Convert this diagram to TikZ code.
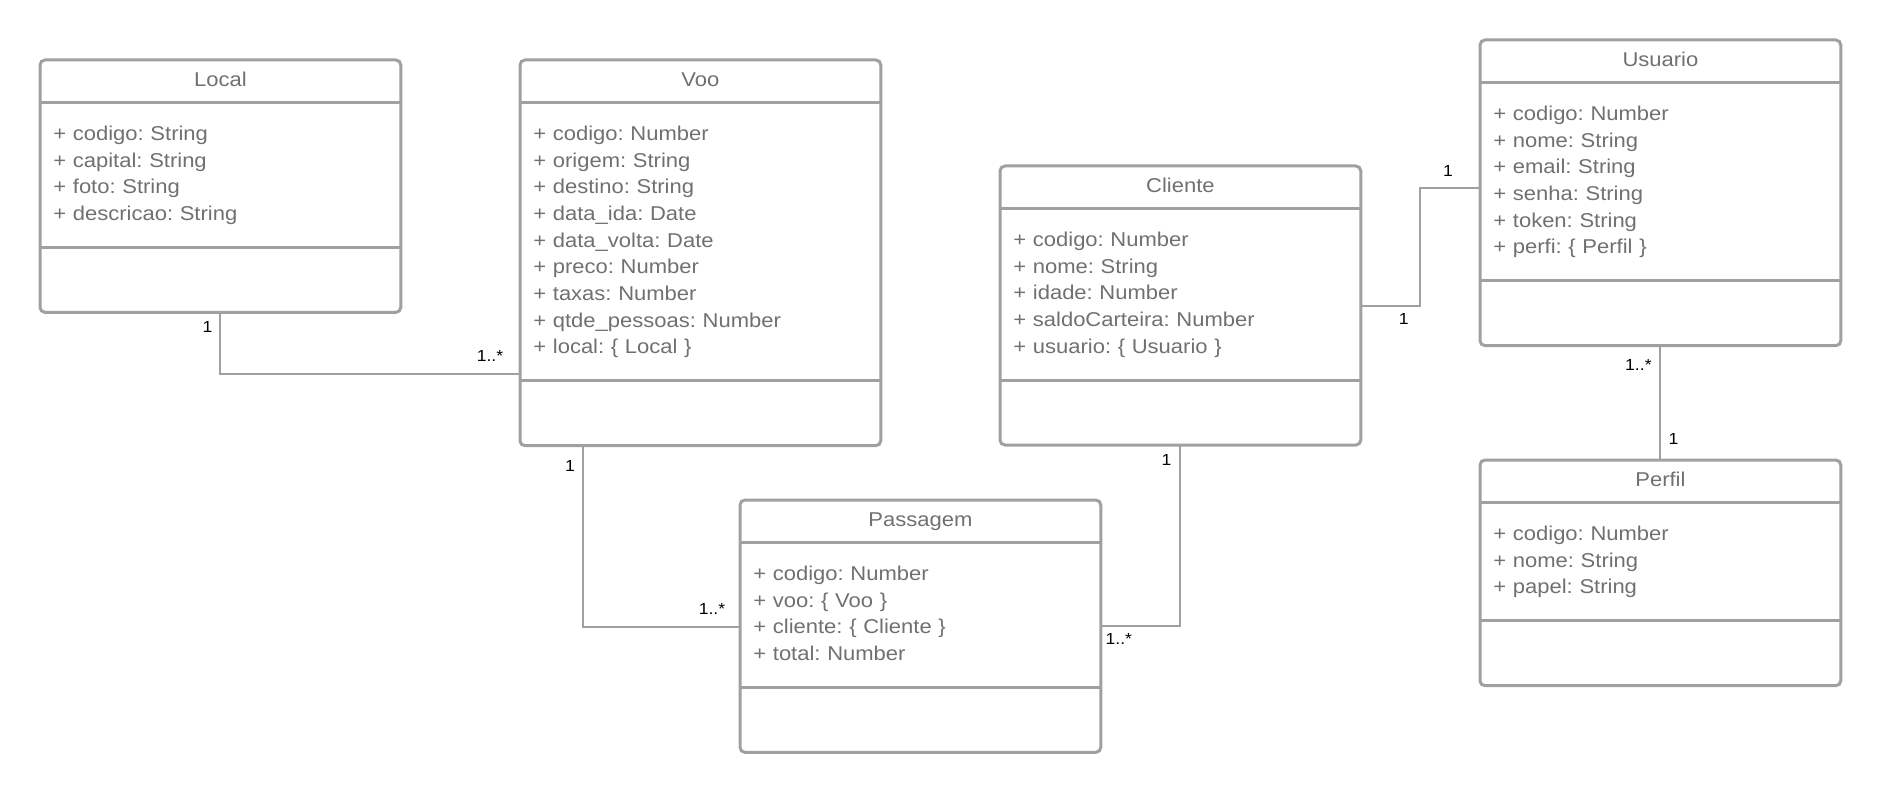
\documentclass[tikz,border=0pt]{standalone}
\usepackage{fontspec}
\setmainfont{Liberation Sans}[FakeStretch=1.1]
\usetikzlibrary{positioning}
\frenchspacing
\definecolor{umlline}{HTML}{A0A0A0}
\definecolor{umltext}{HTML}{707070}
\tikzset{
  classname/.style={anchor=north west, minimum width=180pt, minimum height=21pt, inner sep=0pt,
    text height=7.5pt, text depth=2.5pt, text=umltext, font=\fontsize{10}{12}\selectfont},
  classattr/.style={below=0pt of #1, text width=167pt, inner xsep=6.5pt, inner ysep=9.33pt, align=left,
    text=umltext, font=\fontsize{10}{13.33}\selectfont, execute at begin node=\strut, execute at end node=\strut},
  classops/.style={below=0pt of #1, minimum width=180pt, minimum height=32pt, inner sep=0pt},
  classframe/.style={draw=umlline, line width=1.5pt, rounded corners=2.5pt},
  assoc/.style={draw=umlline, line width=1pt},
  mult/.style={font=\fontsize{8}{10}\selectfont, inner sep=0pt}
}
\begin{document}
\begin{tikzpicture}[x=0.5pt,y=-0.5pt]
  \useasboundingbox (0,0) rectangle (1880,791);
  % classes
  \node [classname] (local) at (40,60) {Local};
  \node [classattr=local] (local-attr) {+ codigo: String\\+ capital: String\\+ foto: String\\+ descricao: String};
  \node [classops=local-attr] (local-ops) {};
  \node [classname] (voo) at (520,60) {Voo};
  \node [classattr=voo] (voo-attr) {+ codigo: Number\\+ origem: String\\+ destino: String\\+ data\_ida: Date\\+ data\_volta: Date\\+ preco: Number\\+ taxas: Number\\+ qtde\_pessoas: Number\\+ local: \{ Local \}};
  \node [classops=voo-attr] (voo-ops) {};
  \node [classname] (passagem) at (740,500) {Passagem};
  \node [classattr=passagem] (passagem-attr) {+ codigo: Number\\+ voo: \{ Voo \}\\+ cliente: \{ Cliente \}\\+ total: Number};
  \node [classops=passagem-attr] (passagem-ops) {};
  \node [classname] (cliente) at (1000,166) {Cliente};
  \node [classattr=cliente] (cliente-attr) {+ codigo: Number\\+ nome: String\\+ idade: Number\\+ saldoCarteira: Number\\+ usuario: \{ Usuario \}};
  \node [classops=cliente-attr] (cliente-ops) {};
  \node [classname] (usuario) at (1480,40) {Usuario};
  \node [classattr=usuario] (usuario-attr) {+ codigo: Number\\+ nome: String\\+ email: String\\+ senha: String\\+ token: String\\+ perfi: \{ Perfil \}};
  \node [classops=usuario-attr] (usuario-ops) {};
  \node [classname] (perfil) at (1480,460) {Perfil};
  \node [classattr=perfil] (perfil-attr) {+ codigo: Number\\+ nome: String\\+ papel: String};
  \node [classops=perfil-attr] (perfil-ops) {};
  \foreach \c in {local,voo,passagem,cliente,usuario,perfil} {
    \draw [classframe] (\c.north west) rectangle (\c-ops.south east);
    \draw [classframe] (\c.south west) -- (\c.south east);
    \draw [classframe] (\c-attr.south west) -- (\c-attr.south east);
  }
  % associations
  \draw [assoc] (local-ops.south) |- ([yshift=3.5pt]voo-ops.north west)
    node [mult, at start, xshift=-6.5pt, yshift=-7.5pt] (m1) {1}
    node [mult, at end, xshift=-15pt, yshift=9pt] (m2) {1..*};
  \draw [assoc] ([xshift=31.5pt]voo-ops.south west) |- ([yshift=-6pt]passagem-attr.west)
    node [mult, at start, xshift=-6.5pt, yshift=-10pt] (m3) {1}
    node [mult, at end, xshift=-14pt, yshift=9pt] (m4) {1..*};
  \draw [assoc] ([yshift=-5.5pt]passagem-attr.east) -| (cliente-ops.south)
    node [mult, at start, xshift=9pt, yshift=-6.5pt] (m5) {1..*}
    node [mult, at end, xshift=-7pt, yshift=-7.5pt] (m6) {1};
  \draw [assoc] ([yshift=-5.75pt]cliente-attr.east) -- ++(29.5pt,0)
    node [mult, at start, xshift=21.5pt, yshift=-6.5pt] (m7) {1}
    |- ([yshift=-3pt]usuario-attr.west)
    node [mult, at end, xshift=-16pt, yshift=8.5pt] (m8) {1};
  \draw [assoc] (usuario-ops.south) -- (perfil.north)
    node [mult, at start, xshift=-11pt, yshift=-9.5pt] (m9) {1..*}
    node [mult, at end, xshift=6.5pt, yshift=10.5pt] (m10) {1};
\end{tikzpicture}
\end{document}
